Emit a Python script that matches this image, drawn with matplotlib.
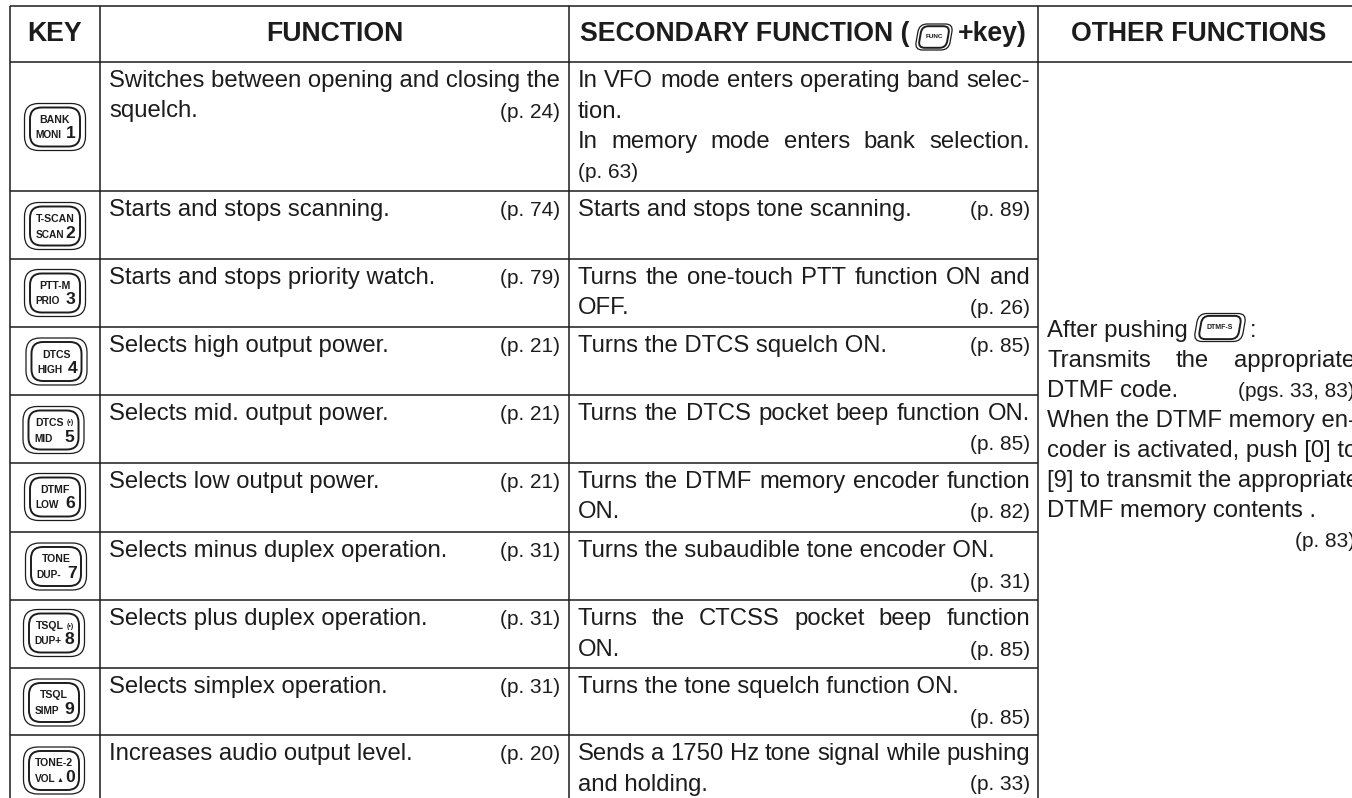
import matplotlib
matplotlib.use("Agg")
import matplotlib.pyplot as plt
from matplotlib.patches import FancyBboxPatch
from matplotlib.transforms import Affine2D

plt.rcParams['font.family'] = ['Liberation Sans', 'DejaVu Sans']

HEADERS = ["KEY", "FUNCTION", "SECONDARY FUNCTION (", "+key)", "OTHER FUNCTIONS"]
KEY_TOP = ["BANK", "T-SCAN", "PTT-M", "DTCS", "DTCS", "DTMF", "TONE", "TSQL", "TSQL", "TONE-2"]
KEY_MARK = ["", "", "", "", "(•)", "", "", "(•)", "", ""]
KEY_BOTTOM = ["MONI", "SCAN", "PRIO", "HIGH", "MID", "LOW", "DUP-", "DUP+", "SIMP", "VOL"]
KEY_BOTTOM_MARK = ["", "", "", "", "", "", "", "", "", "▲"]
KEY_DIGIT = ["1", "2", "3", "4", "5", "6", "7", "8", "9", "0"]
FUNCTIONS = [
    [("Switches between opening and closing the", None, False), ("squelch.", "(p. 24)", False)],
    [("Starts and stops scanning.", "(p. 74)", False)],
    [("Starts and stops priority watch.", "(p. 79)", False)],
    [("Selects high output power.", "(p. 21)", False)],
    [("Selects mid. output power.", "(p. 21)", False)],
    [("Selects low output power.", "(p. 21)", False)],
    [("Selects minus duplex operation.", "(p. 31)", False)],
    [("Selects plus duplex operation.", "(p. 31)", False)],
    [("Selects simplex operation.", "(p. 31)", False)],
    [("Increases audio output level.", "(p. 20)", False)],
]
SECONDARY = [
    [("In VFO mode enters operating band selec-", None, True), ("tion.", None, False),
     ("In memory mode enters bank selection.", None, True), ("", "(p. 63)L", False)],
    [("Starts and stops tone scanning.", "(p. 89)", False)],
    [("Turns the one-touch PTT function ON and", None, True), ("OFF.", "(p. 26)", False)],
    [("Turns the DTCS squelch ON.", "(p. 85)", False)],
    [("Turns the DTCS pocket beep function ON.", None, True), ("", "(p. 85)", False)],
    [("Turns the DTMF memory encoder function", None, True), ("ON.", "(p. 82)", False)],
    [("Turns the subaudible tone encoder ON.", None, False), ("", "(p. 31)", False)],
    [("Turns the CTCSS pocket beep function", None, True), ("ON.", "(p. 85)", False)],
    [("Turns the tone squelch function ON.", None, False), ("", "(p. 85)", False)],
    [("Sends a 1750 Hz tone signal while pushing", None, True), ("and holding.", "(p. 33)", False)],
]
OTHER = [
    ("After pushing", None, False),
    ("Transmits the appropriate", None, True),
    ("DTMF code.", "(pgs. 33, 83)", False),
    ("When the DTMF memory en-", None, False),
    ("coder is activated, push [0] to", None, False),
    ("[9] to transmit the appropriate", None, False),
    ("DTMF memory contents .", None, False),
    ("", "(p. 83)", False),
]

W, H = 1352, 798
INK = "#1c1c1c"
COLS = [10, 100, 569, 1038, 1360]
ROWS = [6, 62, 191, 259, 327, 395, 463, 532, 600, 668, 735, 805]
BODY, PAGE, HEAD = 17.2, 15.0, 19.2
LEAD = 30.5

fig = plt.figure(figsize=(W / 100, H / 100), dpi=100, facecolor="white")
ax = fig.add_axes([0, 0, 1, 1])
ax.set_xlim(0, W)
ax.set_ylim(H, 0)
ax.axis("off")
rend = fig.canvas.get_renderer()


def width(s, size, weight="normal"):
    t = ax.text(0, 0, s, fontsize=size, fontweight=weight)
    w = t.get_window_extent(rend).width
    t.remove()
    return w


def put_line(x0, x1, y, text, page, just):
    if just:
        words = text.split()
        ws = [width(w, BODY) for w in words]
        gap = (x1 - x0 - sum(ws)) / (len(words) - 1)
        x = x0
        for w, wd in zip(words, ws):
            ax.text(x, y, w, fontsize=BODY, color=INK, va="baseline", clip_on=True)
            x += wd + gap
    elif text:
        ax.text(x0, y, text, fontsize=BODY, color=INK, va="baseline", clip_on=True)
    if page:
        if page.endswith("L"):
            ax.text(x0, y, page[:-1], fontsize=PAGE, color=INK, va="baseline")
        else:
            ax.text(x1, y, page, fontsize=PAGE, color=INK, va="baseline", ha="right", clip_on=True)


def key_shape(cx, cy, w, h, skew=0.0):
    tr = Affine2D().skew_deg(skew, 0).translate(cx, cy) + ax.transData
    for sx, sy, lw in [(1.0, 1.0, 0.9), (0.82, 0.83, 1.4)]:
        ww, hh = w * sx, h * sy
        rad = min(w, h) * 0.30 * sy
        ax.add_patch(FancyBboxPatch((-ww / 2 + rad, -hh / 2 + rad), ww - 2 * rad, hh - 2 * rad,
                                    boxstyle=f"round,pad={rad},rounding_size={rad}",
                                    fc="white", ec=INK, lw=lw, transform=tr, zorder=3))


# grid
for x in COLS[:4]:
    ax.plot([x, x], [ROWS[0], H + 5], color=INK, lw=1.1, solid_capstyle="butt")
for y in ROWS[:2]:
    ax.plot([COLS[0], W + 5], [y, y], color=INK, lw=1.1, solid_capstyle="butt")
for y in ROWS[2:-1]:
    ax.plot([COLS[0], COLS[3]], [y, y], color=INK, lw=1.1, solid_capstyle="butt")

# header
hy = 41
ax.text(55, hy, HEADERS[0], fontsize=HEAD, fontweight="bold", color=INK, ha="center", va="baseline")
ax.text(335, hy, HEADERS[1], fontsize=HEAD, fontweight="bold", color=INK, ha="center", va="baseline")
ax.text(580, hy, HEADERS[2], fontsize=HEAD, fontweight="bold", color=INK, va="baseline")
ax.text(1027, hy, HEADERS[3], fontsize=HEAD, fontweight="bold", color=INK, ha="right", va="baseline")
ax.text(1199, hy, HEADERS[4], fontsize=HEAD, fontweight="bold", color=INK, ha="center", va="baseline")
key_shape(934, 37, 34, 26, -10)
ax.text(934, 37, "FUNC", fontsize=4.6, fontweight="bold", color=INK, ha="center", va="center", zorder=4)

# rows
KEY_X = [55, 55, 55, 56.5, 53.5, 55, 56, 54, 54, 54]
KEY_Y = [127, 226, 293, 361.5, 430, 497, 566.5, 633, 702.5, 770.5]
for i in range(10):
    top = ROWS[i + 1]
    cx, cy = KEY_X[i], KEY_Y[i]
    key_shape(cx, cy, 61, 47)
    if KEY_MARK[i]:
        ax.text(cx - 18.5, cy - 7, KEY_TOP[i], fontsize=7.6, fontweight="bold", color=INK, va="center", zorder=4)
        ax.text(cx + 20, cy - 7, KEY_MARK[i], fontsize=5, fontweight="bold", color=INK, ha="right", va="center", zorder=4)
    else:
        ax.text(cx, cy - 7, KEY_TOP[i], fontsize=7.6, fontweight="bold", color=INK, ha="center", va="center", zorder=4)
    ax.text(cx - 19.5, cy + 11.5, KEY_BOTTOM[i], fontsize=7.3, fontweight="bold", color=INK, va="baseline", zorder=4)
    if KEY_BOTTOM_MARK[i]:
        ax.text(cx + 9, cy + 11.5, KEY_BOTTOM_MARK[i], fontsize=5, color=INK, ha="right", va="baseline", zorder=4)
    ax.text(cx + 20.5, cy + 11.5, KEY_DIGIT[i], fontsize=12.6, fontweight="bold", color=INK, ha="right", va="baseline", zorder=4)
    for j, (t, p, jf) in enumerate(FUNCTIONS[i]):
        put_line(109, 560.5, top + 25 + j * LEAD, t, p, jf)
    for j, (t, p, jf) in enumerate(SECONDARY[i]):
        put_line(577.5, 1030, top + 25 + j * LEAD, t, p, jf)

# other functions column
OTHER_Y0 = 337
for j, (t, p, jf) in enumerate(OTHER):
    put_line(1047, 1355, OTHER_Y0 + j * 30.0, t, p, jf)
key_shape(1220, 327.5, 48, 28, -10)
ax.text(1220, 327.5, "DTMF-S", fontsize=5.0, fontweight="bold", color=INK, ha="center", va="center", zorder=4)
ax.text(1250, 337, ":", fontsize=BODY, color=INK, va="baseline")

fig.savefig("out.png", dpi=100, facecolor="white")
